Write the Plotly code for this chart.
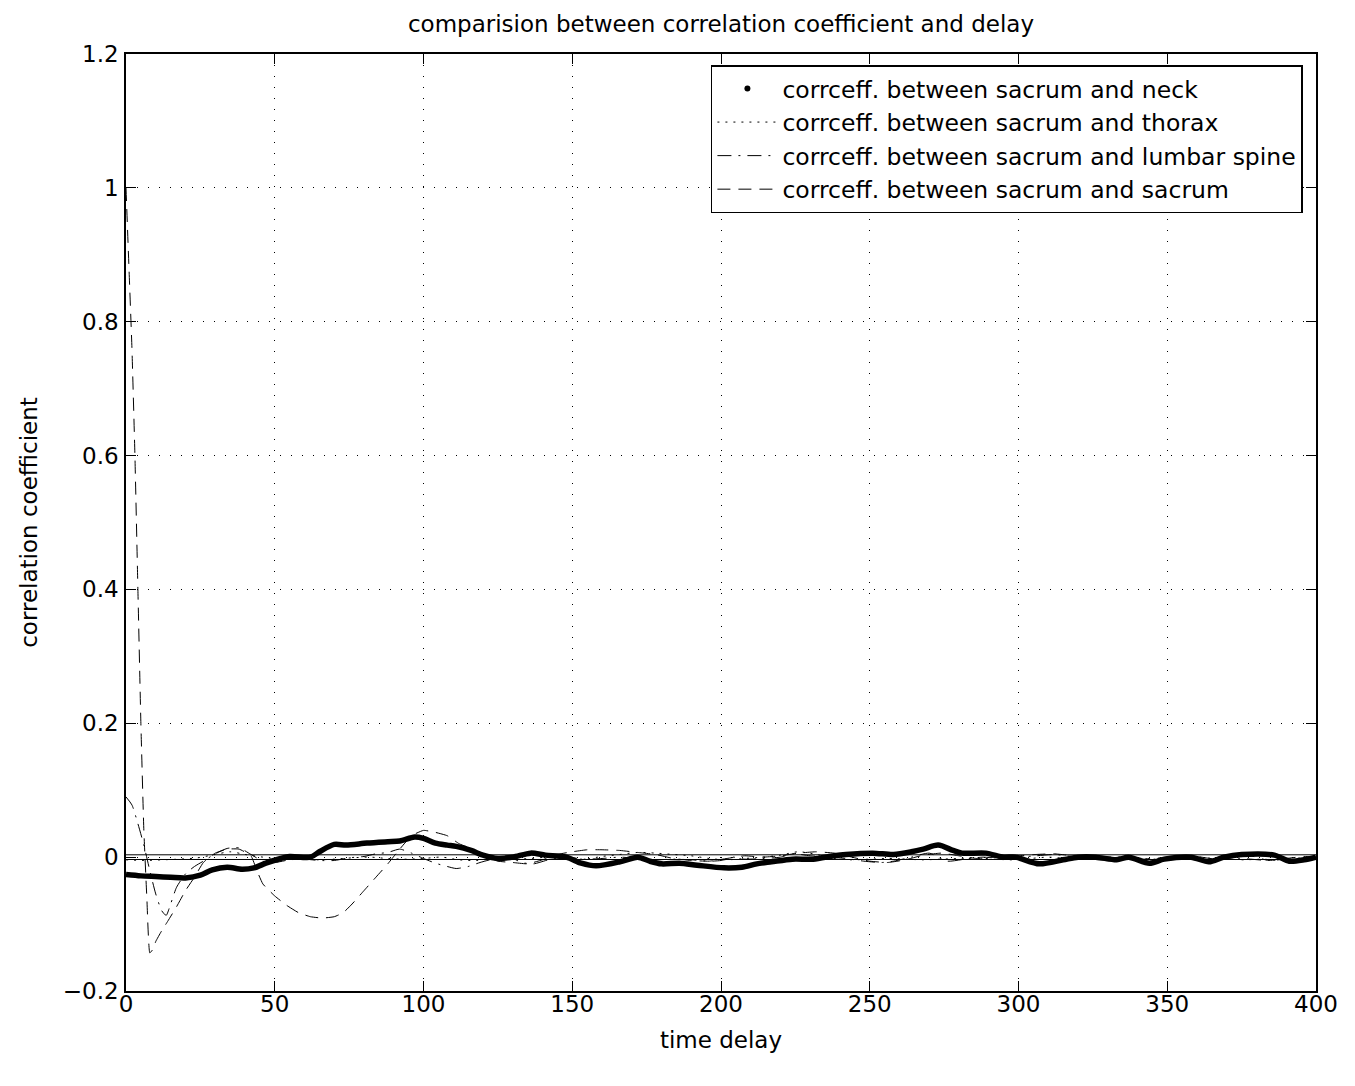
import plotly.graph_objects as go

# ---------------- data ----------------
x_ticks = [0, 50, 100, 150, 200, 250, 300, 350, 400]
y_ticks = [-0.2, 0, 0.2, 0.4, 0.6, 0.8, 1.0, 1.2]
y_tick_text = ["\u22120.2", "0", "0.2", "0.4", "0.6", "0.8", "1", "1.2"]

series_names = [
    "corrceff. between sacrum and neck",
    "corrceff. between sacrum and thorax",
    "corrceff. between sacrum and lumbar spine",
    "corrceff. between sacrum and sacrum",
]

neck_x = [0, 5, 10, 15, 20, 25, 29, 34, 39, 43, 47, 52, 55, 62, 65, 70, 74, 81, 88, 92,
          97, 100, 104, 108, 111, 116, 120, 125, 130, 136, 141, 148, 153, 158, 166, 172,
          176, 180, 186, 192, 201, 207, 212, 217, 224, 231, 238, 242, 251, 258, 264, 268,
          273, 278, 281, 289, 295, 299, 307, 315, 320, 326, 333, 337, 344, 349, 358, 364,
          369, 375, 386, 391, 396, 400]
neck_y = [-0.026, -0.028, -0.029, -0.03, -0.031, -0.027, -0.019, -0.015, -0.018, -0.016,
          -0.009, -0.002, 0.001, 0.0, 0.008, 0.019, 0.018, 0.021, 0.023, 0.024,
          0.03, 0.028, 0.021, 0.018, 0.016, 0.01, 0.003, -0.002, 0.0, 0.006, 0.003, 0.0,
          -0.009, -0.013, -0.007, 0.0, -0.006, -0.01, -0.009, -0.012, -0.016, -0.015,
          -0.01, -0.007, -0.003, -0.003, 0.002, 0.004, 0.006, 0.004, 0.008, 0.012,
          0.018, 0.01, 0.006, 0.006, 0.0, 0.0, -0.01, -0.004, 0.0, 0.0, -0.004, 0.0,
          -0.009, -0.003, 0.0, -0.007, 0.0, 0.004, 0.003, -0.006, -0.004, 0.0]

thorax_x = [0, 6, 12, 18, 24, 30, 35, 40, 46, 52, 58, 64, 70, 76, 82, 88, 94, 100, 106,
            112, 118, 124, 130, 136, 142, 148, 154, 160, 166, 172, 178, 184, 190, 196,
            202, 208, 214, 220, 226, 232, 238, 244, 250, 256, 262, 268, 274, 280, 286,
            292, 298, 304, 310, 316, 322, 328, 334, 340, 346, 352, 358, 364, 370, 376,
            382, 388, 394, 400]
thorax_y = [-0.004, -0.005, -0.004, -0.003, -0.001, 0.004, 0.008, 0.004, 0.0, -0.003,
            -0.002, -0.004, -0.003, -0.001, 0.0, -0.002, -0.003, -0.002, 0.0, -0.004,
            -0.005, -0.002, -0.003, -0.002, 0.0, -0.002, -0.003, 0.001, 0.004, 0.007,
            0.006, 0.004, 0.002, -0.002, -0.004, -0.002, 0.0, 0.003, 0.008, 0.004,
            -0.002, -0.004, -0.003, -0.002, -0.003, -0.004, -0.003, -0.002, -0.001,
            -0.003, -0.004, -0.002, 0.0, -0.002, -0.003, -0.002, -0.001, -0.002, -0.003,
            -0.002, -0.001, -0.002, -0.003, -0.004, -0.003, -0.005, -0.003, -0.002]

lumbar_x = [0, 2, 4, 6, 8, 10, 12, 13.5, 15, 17, 20, 23, 26, 30, 34, 38, 42, 46, 50, 55,
            60, 65, 70, 75, 80, 84, 88, 92, 96, 100, 104, 108, 111, 115, 119, 124, 128,
            133, 137, 142, 148, 154, 160, 166, 172, 178, 184, 190, 196, 200, 204, 208,
            214, 220, 224, 230, 236, 242, 248, 254, 258, 264, 270, 276, 282, 288, 294,
            300, 306, 312, 318, 324, 330, 336, 342, 348, 354, 360, 366, 372, 378, 384,
            390, 396, 400]
lumbar_y = [0.09, 0.078, 0.05, 0.018, -0.02, -0.055, -0.08, -0.087, -0.07, -0.045,
            -0.025, -0.014, -0.006, 0.005, 0.013, 0.014, 0.004, -0.006, -0.008, -0.004,
            -0.003, -0.005, -0.005, -0.001, 0.001, 0.005, 0.007, 0.012, 0.006, -0.002,
            -0.009, -0.014, -0.017, -0.014, -0.008, -0.002, 0.002, -0.008, -0.01,
            -0.004, 0.0, -0.003, -0.002, 0.0, -0.002, -0.004, -0.003, -0.004, -0.006,
            -0.005, 0.0, -0.003, -0.002, 0.0, 0.005, 0.002, 0.0, -0.002, -0.006, -0.008,
            -0.006, 0.0, 0.006, -0.006, -0.003, 0.0, -0.002, 0.0, 0.002, 0.004, 0.001,
            -0.002, 0.0, 0.0, -0.002, -0.003, -0.001, 0.0, -0.002, -0.001, -0.003,
            -0.005, -0.003, -0.001, 0.0]

sacrum_x = [0, 1, 2, 3, 4, 5, 6, 7, 8, 9, 10, 12, 14, 17, 20, 23, 26, 30, 34, 38, 42,
            44, 46, 50, 54, 58, 62, 66, 70, 73, 76, 80, 84, 88, 92, 96, 100, 104, 108,
            112, 116, 120, 125, 130, 135, 140, 145, 150, 155, 160, 166, 172, 178, 184,
            190, 196, 202, 208, 214, 220, 226, 232, 238, 244, 250, 256, 262, 268, 274,
            280, 286, 292, 300, 306, 312, 318, 324, 330, 336, 342, 348, 354, 360, 366,
            372, 378, 384, 390, 396, 400]
sacrum_y = [1.0, 0.88, 0.76, 0.6, 0.4, 0.2, 0.04, -0.06, -0.143, -0.138, -0.126, -0.11,
            -0.096, -0.074, -0.05, -0.03, -0.008, 0.006, 0.012, 0.012, 0.002,
            -0.02, -0.04, -0.058, -0.072, -0.083, -0.089, -0.091, -0.089, -0.083,
            -0.07, -0.05, -0.03, -0.01, 0.012, 0.032, 0.04, 0.037, 0.032, 0.02, 0.013,
            0.003, -0.006, -0.008, -0.01, -0.004, 0.004, 0.008, 0.011, 0.011, 0.01,
            0.007, 0.004, -0.002, -0.005, -0.006, -0.002, 0.002, 0.0, 0.002, 0.006,
            0.008, 0.006, 0.0, -0.006, -0.008, -0.004, 0.003, 0.006, 0.002, -0.002,
            0.0, 0.002, 0.004, 0.005, 0.002, -0.002, -0.001, 0.0, -0.003, -0.001,
            0.002, 0.001, -0.003, -0.001, 0.002, -0.005, -0.002, 0.001, 0.0]

conf_bounds = [0.0035, -0.0035]
x_range = [0, 400]
y_range = [-0.2, 1.2]

# ---------------- figure ----------------
FONT = "DejaVu Sans"
fig = go.Figure()

# legend entry for neck (plotted as dense dots)
fig.add_trace(go.Scatter(x=[None], y=[None], mode="markers", name=series_names[0],
                         marker=dict(color="black", size=6)))
fig.add_trace(go.Scatter(x=thorax_x, y=thorax_y, mode="lines", name=series_names[1],
                         line=dict(color="black", width=1, dash="2px,6px",
                                   shape="spline", smoothing=0.8)))
fig.add_trace(go.Scatter(x=lumbar_x, y=lumbar_y, mode="lines", name=series_names[2],
                         line=dict(color="black", width=1, dash="14px,7px,2px,7px",
                                   shape="spline", smoothing=0.6)))
fig.add_trace(go.Scatter(x=sacrum_x, y=sacrum_y, mode="lines", name=series_names[3],
                         line=dict(color="black", width=1, dash="13px,8px",
                                   shape="spline", smoothing=0.4)))
for b in conf_bounds:
    fig.add_trace(go.Scatter(x=x_range, y=[b, b], mode="lines", showlegend=False,
                             line=dict(color="black", width=1)))
fig.add_trace(go.Scatter(x=neck_x, y=neck_y, mode="lines", showlegend=False,
                         line=dict(color="black", width=5.5, shape="spline",
                                   smoothing=0.8)))

axis_common = dict(
    showline=True, linecolor="black", linewidth=1.5, mirror="ticks",
    ticks="inside", ticklen=10, tickwidth=1, tickcolor="black",
    showgrid=True, gridcolor="black", gridwidth=1, griddash="1px,10px",
    zeroline=False, tickfont=dict(family=FONT, size=23, color="black"),
)

# page body has an 8px margin, so the figure is sized/offset to compensate
fig.update_layout(
    width=1347, height=1078,
    paper_bgcolor="white", plot_bgcolor="white",
    margin=dict(l=118, r=39, t=46, b=95),
    font=dict(family=FONT, size=23, color="black"),
    title=dict(text="comparision between correlation coefficient and delay",
               x=0.5, xref="paper", y=1 - 16 / 1078, yref="container",
               yanchor="middle", font=dict(family=FONT, size=23, color="black")),
    xaxis=dict(range=x_range, tickvals=x_ticks, ticktext=[str(v) for v in x_ticks],
               ticklabelstandoff=-8,
               title=dict(text="time delay", standoff=16,
                          font=dict(family=FONT, size=23)),
               **axis_common),
    yaxis=dict(range=y_range, tickvals=y_ticks, ticktext=y_tick_text,
               ticklabelstandoff=1,
               title=dict(text="correlation coefficient", standoff=19,
                          font=dict(family=FONT, size=23)),
               **axis_common),
    legend=dict(x=0.989, xanchor="right", y=0.988, yanchor="top",
                bgcolor="white", bordercolor="black", borderwidth=1.5,
                font=dict(family=FONT, size=23.5, color="black"),
                tracegroupgap=0, itemwidth=60),
    showlegend=True,
)

fig.write_html("out.html")
